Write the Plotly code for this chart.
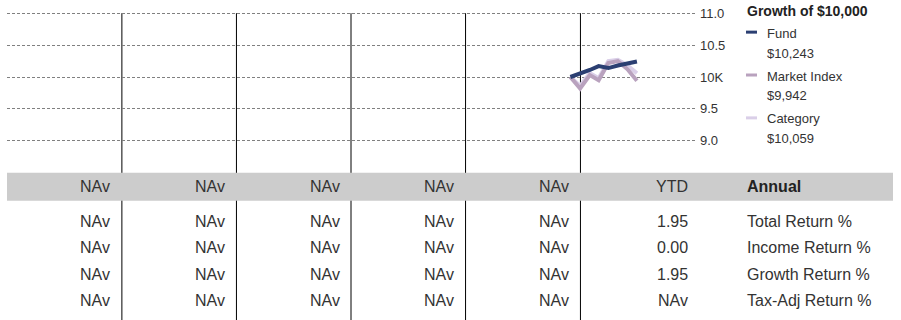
import plotly.graph_objects as go

# ---------------- data ----------------
dates = ["2024-11-30", "2024-12-31", "2025-01-31", "2025-02-28",
         "2025-03-31", "2025-04-30", "2025-05-31", "2025-06-30"]
fund = [10.0, 10.05, 10.11, 10.17, 10.14, 10.18, 10.21, 10.243]
market_index = [10.0, 9.82, 10.03, 9.95, 10.22, 10.25, 10.12, 9.942]
category = [10.0, 9.86, 10.06, 9.98, 10.25, 10.27, 10.18, 10.059]

series_names = ["Fund", "Market Index", "Category"]
series_end_values = ["$10,243", "$9,942", "$10,059"]
series_colors = ["#2b3f72", "#b9a2be", "#dacfe8"]

year_starts = ["2020-01-01", "2021-01-01", "2022-01-01", "2023-01-01",
               "2024-01-01", "2025-01-01", "2026-01-01"]

y_tick_vals = [9.0, 9.5, 10.0, 10.5, 11.0]
y_tick_text = ["9.0", "9.5", "10K", "10.5", "11.0"]
y_range = [8.95, 11.05]

header_row = ["NAv", "NAv", "NAv", "NAv", "NAv", "YTD"]
row_labels = ["Total Return %", "Income Return %", "Growth Return %", "Tax-Adj Return %"]
table_rows = [
    ["NAv", "NAv", "NAv", "NAv", "NAv", "1.95"],
    ["NAv", "NAv", "NAv", "NAv", "NAv", "0.00"],
    ["NAv", "NAv", "NAv", "NAv", "NAv", "1.95"],
    ["NAv", "NAv", "NAv", "NAv", "NAv", "NAv"],
]

# ---------------- geometry helpers (pixel -> paper) ----------------
W, H = 901, 320
PX_PER_UNIT = 64.0
Y_TOP_GRID = 13.0  # pixel row of the 11.0 gridline
PL, PR = 7, 695
PT = Y_TOP_GRID - (y_range[1] - 11.0) * PX_PER_UNIT
PB = PT + (y_range[1] - y_range[0]) * PX_PER_UNIT


def px(xp):
    return (xp - PL) / (PR - PL)


def py(yp):
    return (PB - yp) / (PB - PT)


FONT = "Liberation Sans, Arial, sans-serif"
TXT = "#333333"

fig = go.Figure()
# draw category, market index, then fund on top
for name, vals, col in [("Category", category, series_colors[2]),
                        ("Market Index", market_index, series_colors[1]),
                        ("Fund", fund, series_colors[0])]:
    fig.add_trace(go.Scatter(x=dates, y=vals, mode="lines", name=name,
                             line=dict(color=col, width=4), showlegend=False,
                             hoverinfo="skip"))

shapes = []
# vertical year separators (extend through the table)
for d in year_starts[1:-1]:
    shapes.append(dict(type="line", xref="x", yref="paper", x0=d, x1=d,
                       y0=py(13), y1=py(321), line=dict(color="#000000", width=1),
                       layer="below"))
# gray header band
shapes.append(dict(type="rect", xref="paper", yref="paper",
                   x0=px(7), x1=px(893), y0=py(173), y1=py(201),
                   fillcolor="#cccccc", line=dict(width=0), layer="above"))
# legend swatches
for i, col in enumerate(series_colors):
    yy = [32, 75, 118][i]
    shapes.append(dict(type="line", xref="paper", yref="paper",
                       x0=px(746), x1=px(757), y0=py(yy), y1=py(yy),
                       line=dict(color=col, width=3), layer="above"))

ann = []
# legend title
ann.append(dict(text="<b>Growth of $10,000</b>", xref="paper", yref="paper",
                x=px(745), y=py(11), xanchor="left", yanchor="middle",
                showarrow=False, font=dict(family=FONT, size=14, color="#222222")))
for i, (nm, ev) in enumerate(zip(series_names, series_end_values)):
    y1 = [33, 76, 119][i]
    ann.append(dict(text=nm, xref="paper", yref="paper", x=px(765), y=py(y1),
                    xanchor="left", yanchor="middle", showarrow=False,
                    font=dict(family=FONT, size=13, color=TXT)))
    ann.append(dict(text=ev, xref="paper", yref="paper", x=px(765), y=py(y1 + 20),
                    xanchor="left", yanchor="middle", showarrow=False,
                    font=dict(family=FONT, size=13, color=TXT)))

# table
col_w = (PR - PL) / 6
col_right = [PL + (k + 1) * col_w - 9.5 for k in range(5)] + [690]
header_y = 187
row_y = [222, 248, 275, 301]
for k, t in enumerate(header_row):
    ann.append(dict(text=t, xref="paper", yref="paper", x=px(col_right[k]), y=py(header_y),
                    xanchor="right", yanchor="middle", showarrow=False,
                    font=dict(family=FONT, size=16, color=TXT)))
ann.append(dict(text="<b>Annual</b>", xref="paper", yref="paper", x=px(745), y=py(header_y),
                xanchor="left", yanchor="middle", showarrow=False,
                font=dict(family=FONT, size=16, color="#222222")))
for r, (lab, row) in enumerate(zip(row_labels, table_rows)):
    for k, t in enumerate(row):
        ann.append(dict(text=t, xref="paper", yref="paper", x=px(col_right[k]), y=py(row_y[r]),
                        xanchor="right", yanchor="middle", showarrow=False,
                        font=dict(family=FONT, size=16, color=TXT)))
    ann.append(dict(text=lab, xref="paper", yref="paper", x=px(745), y=py(row_y[r]),
                    xanchor="left", yanchor="middle", showarrow=False,
                    font=dict(family=FONT, size=16, color=TXT)))

fig.update_layout(
    width=W, height=H,
    margin=dict(l=PL, r=W - PR, t=PT, b=H - PB, autoexpand=False),
    paper_bgcolor="white", plot_bgcolor="white",
    xaxis=dict(type="date", range=[year_starts[0], year_starts[-1]], showgrid=False,
               showticklabels=False, zeroline=False, showline=False, ticks=""),
    yaxis=dict(range=y_range, side="right", tickvals=y_tick_vals, ticktext=y_tick_text,
               showgrid=True, gridcolor="#808080", gridwidth=1, griddash="3px,2px",
               zeroline=False, showline=False, ticks="", ticklabelstandoff=4,
               tickfont=dict(family=FONT, size=13, color=TXT)),
    shapes=shapes, annotations=ann, showlegend=False,
)

fig.write_html("out.html", config={"displayModeBar": False, "staticPlot": True},
               post_script="document.body.style.margin='0';")
